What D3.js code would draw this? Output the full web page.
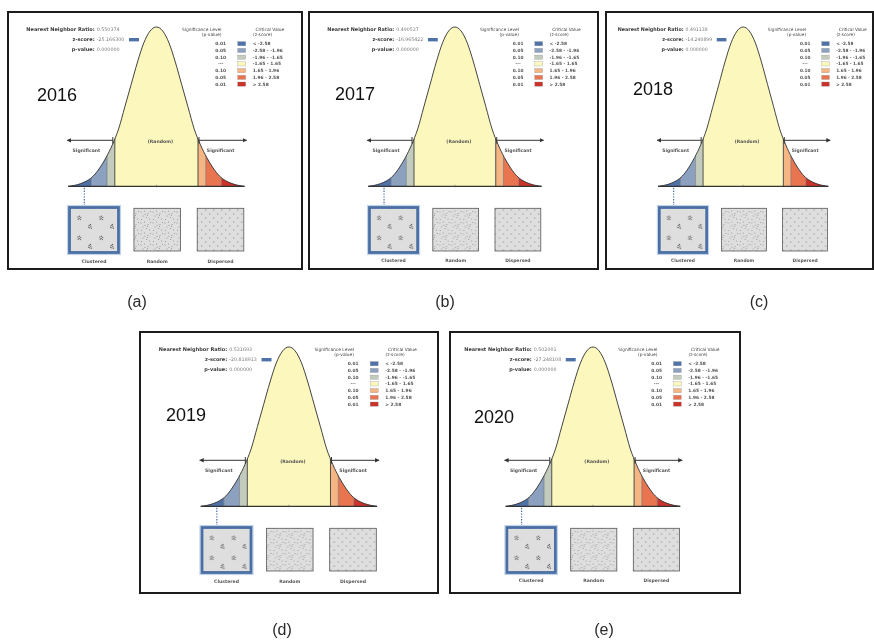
<!DOCTYPE html>
<html>
<head>
<meta charset="utf-8">
<script src="https://cdn.jsdelivr.net/npm/d3@7"></script>
<style>
body { margin:0; background:#fff; }
svg { display:block; font-family:'DejaVu Sans', Verdana, sans-serif; will-change:transform; }
.year, .tag { font-family:'Liberation Sans', Arial, sans-serif; }
</style>
</head>
<body>
<div id="canvas"></div>
<script>
// ---- DATA ------------------------------------------------------------------------------
var years = ['2016','2017','2018','2019','2020'];
var panelTags = ['(a)','(b)','(c)','(d)','(e)'];
var nnRatios = ['0.550374','0.490537','0.491138','0.531693','0.502001'];
var zScores = ['-25.166300','-16.965422','-14.240899','-20.818913','-27.248108'];
var pValues = ['0.000000','0.000000','0.000000','0.000000','0.000000'];

var sigLevels = ['0.01','0.05','0.10','---','0.10','0.05','0.01'];
var critValues = ['< -2.58','-2.58 - -1.96','-1.96 - -1.65','-1.65 - 1.65','1.65 - 1.96','1.96 - 2.58','> 2.58'];
var zBreaks = [-3.5,-2.58,-1.96,-1.65,1.65,1.96,2.58,3.5];

// bell outline: relative height, z = -3.5 ... 3.5
var curveZ = [-3.5,-3.25,-3,-2.75,-2.5,-2.25,-2,-1.75,-1.5,-1.25,-1,-0.75,-0.5,-0.25,0,
              0.25,0.5,0.75,1,1.25,1.5,1.75,2,2.25,2.5,2.75,3,3.25,3.5];
var curveH = [0,0.006,0.017,0.035,0.065,0.115,0.18,0.26,0.36,0.5,0.64,0.78,0.9,0.975,1,
              0.975,0.9,0.78,0.64,0.5,0.36,0.26,0.18,0.115,0.065,0.035,0.017,0.006,0];

var patternNames = ['Clustered','Random','Dispersed'];

// ---- LAYOUT ----------------------------------------------------------------------------
var outerWidth = 874, outerHeight = 642;
var panelBoxes = [
    {x:8,   y:12,  w:294, h:257, sx:1,     ox:0},
    {x:309, y:12,  w:289, h:257, sx:0.983, ox:0},
    {x:606, y:12,  w:267, h:257, sx:0.965, ox:-6},
    {x:140, y:332, w:298, h:261, sx:1,     ox:0.5},
    {x:450, y:332, w:290, h:261, sx:0.99,  ox:-4}
];
var yearSpots = [[29,89],[26,87.5],[27,83],[26,89],[24,90.5]];
var tagSpots = [[137,307],[445,307],[759,307],[282,635],[604,635]];

var binColors = ['#4f73a8','#8ba1bf','#c3ccbc','#fcf8bd','#f5b684','#e87450','#cc3229'];

var svg = d3.select('#canvas')
    .append('svg')
    .attr('width',outerWidth)
    .attr('height',outerHeight);

// ---- SCALES ----------------------------------------------------------------------------
var scaleX = d3.scaleLinear().domain([-3.5,3.5]).range([60.2,236.6]);
var scaleY = d3.scaleLinear().domain([0,1]).range([174.3,15]);
var scaleRow = d3.scalePoint().domain(d3.range(sigLevels.length)).range([31.6,72]);
var scaleBox = d3.scalePoint().domain(patternNames).range([86,212.5]);

var bellPoints = curveZ.map(function(z,i){ return {z:z, h:curveH[i]}; });

var areaGenerator = d3.area()
    .x(function(d){ return scaleX(d.z); })
    .y0(scaleY(0))
    .y1(function(d){ return scaleY(d.h); })
    .curve(d3.curveMonotoneX);
var lineGenerator = d3.line()
    .x(function(d){ return scaleX(d.z); })
    .y(function(d){ return scaleY(d.h); })
    .curve(d3.curveMonotoneX);

// ---- DEFS ------------------------------------------------------------------------------
var defs = svg.append('defs');

defs.append('clipPath').attr('id','bell')
    .append('path').attr('d', areaGenerator(bellPoints));

defs.append('marker')
    .attr('id','arrow')
    .attr('viewBox','0 0 10 10')
    .attr('refX',9).attr('refY',5)
    .attr('markerWidth',4.5).attr('markerHeight',4.5)
    .attr('orient','auto-start-reverse')
    .append('path').attr('d','M0,0L10,5L0,10z').attr('fill','#333');

// speckle textures for the three example squares
function speckle(id, w, h, spots, r){
    var p = defs.append('pattern').attr('id',id)
        .attr('patternUnits','userSpaceOnUse')
        .attr('width',w).attr('height',h);
    p.append('rect').attr('width',w).attr('height',h).attr('fill','#dedede');
    spots.forEach(function(s){
        p.append('circle').attr('cx',s[0]).attr('cy',s[1]).attr('r',r).attr('fill','#5a5a5a');
    });
}
speckle('tex-clustered', 22, 20, [[4,5],[5.6,4.2],[5.2,6.3],[6.8,5.6],[4.2,7.2],[6.4,7.6],
                                   [15.2,13.4],[16.8,14.2],[15.8,15.8],[17.4,16.2],[16.4,12.4],[14.6,15.2]], 0.65);
speckle('tex-random', 12, 11, [[1,2],[4.5,1],[8,3.5],[10.5,1.5],[3,6],[6.5,7.5],[9.5,9],[1.5,9.5],[5,4.2],[7.4,5.2]], 0.45);
speckle('tex-dispersed', 8, 8, [[1.8,2],[5.8,6]], 0.5);

// ---- PANELS ----------------------------------------------------------------------------
years.forEach(function(year, i){
    var box = panelBoxes[i];

    var panel = svg.append('g')
        .attr('class','panel')
        .attr('transform','translate(' + box.x + ',' + box.y + ')');

    panel.append('clipPath').attr('id','panel-clip-' + i)
        .append('rect').attr('x',1).attr('y',1).attr('width',box.w - 2).attr('height',box.h - 2);

    panel.append('rect')
        .attr('width',box.w).attr('height',box.h)
        .attr('fill','#fff');

    var clip = panel.append('g').attr('clip-path','url(#panel-clip-' + i + ')');
    var plot = clip.append('g')
        .attr('transform','translate(' + box.ox + ',0) scale(' + box.sx + ',1)');

    // header
    var head = plot.append('g').style('font-size','5px');
    var headRows = [['Nearest Neighbor Ratio:', nnRatios[i]], ['z-score:', zScores[i]], ['p-value:', pValues[i]]];
    headRows.forEach(function(r, k){
        head.append('text')
            .attr('x',86.7).attr('y',19 + k*10)
            .attr('text-anchor','end')
            .style('font-weight','bold')
            .attr('fill','#3a3a3a')
            .text(r[0]);
        head.append('text')
            .attr('x',88.7).attr('y',19 + k*10)
            .style('font-size','4.8px')
            .attr('fill','#7a7a7a')
            .text(r[1]);
    });
    head.append('rect')
        .attr('x',121).attr('y',26).attr('width',10).attr('height',3.4)
        .attr('fill',binColors[0]);

    // legend
    var legend = plot.append('g').style('font-size','4.4px').attr('fill','#444');
    legend.append('text').attr('x',193.7).attr('y',18.8).attr('text-anchor','middle').text('Significance Level');
    legend.append('text').attr('x',203.7).attr('y',24.3).attr('text-anchor','middle').text('(p-value)');
    legend.append('text').attr('x',261.9).attr('y',18.8).attr('text-anchor','middle').text('Critical Value');
    legend.append('text').attr('x',245).attr('y',24.3).text('(z-score)');

    var rows = legend.selectAll('.row')
        .data(sigLevels)
        .enter().append('g')
        .attr('class','row')
        .attr('transform', function(d, k){ return 'translate(0,' + scaleRow(k) + ')'; });
    rows.append('text')
        .attr('x',212.7).attr('y',1.6)
        .attr('text-anchor','middle')
        .style('font-weight','bold')
        .attr('fill','#555')
        .text(function(d){ return d; });
    rows.append('rect')
        .attr('x',229.7).attr('y',-2).attr('width',8).attr('height',4.2)
        .attr('fill', function(d, k){ return binColors[k]; })
        .attr('stroke','#8a8a8a').attr('stroke-width',0.3);
    rows.append('text')
        .attr('x',244.7).attr('y',1.6)
        .style('font-weight','bold')
        .attr('fill','#555')
        .text(function(d, k){ return critValues[k]; });

    // bell curve, coloured by critical value bins
    var bell = plot.append('g').attr('clip-path','url(#bell)');
    bell.selectAll('.bin')
        .data(binColors)
        .enter().append('rect')
        .attr('class','bin')
        .attr('x', function(d, k){ return scaleX(zBreaks[k]); })
        .attr('width', function(d, k){ return scaleX(zBreaks[k+1]) - scaleX(zBreaks[k]); })
        .attr('y',0).attr('height',scaleY(0))
        .attr('fill', function(d){ return d; });
    bell.selectAll('.brk')
        .data(zBreaks.slice(1, -1))
        .enter().append('line')
        .attr('class','brk')
        .attr('x1', function(d){ return scaleX(d); })
        .attr('x2', function(d){ return scaleX(d); })
        .attr('y1',0).attr('y2',scaleY(0))
        .attr('stroke', function(d){ return Math.abs(d) === 1.65 ? '#3c3c3c' : '#6e6e6e'; })
        .attr('stroke-width', function(d){ return Math.abs(d) === 1.65 ? 0.9 : 0.6; });

    plot.append('path')
        .datum(bellPoints)
        .attr('d', lineGenerator)
        .attr('fill','none')
        .attr('stroke','#2e2e2e')
        .attr('stroke-width',0.9);

    plot.append('line')
        .attr('x1',scaleX(-3.5)).attr('x2',scaleX(3.5))
        .attr('y1',scaleY(0)).attr('y2',scaleY(0))
        .attr('stroke','#333').attr('stroke-width',1.3);
    plot.append('line')
        .attr('x1',scaleX(0)).attr('x2',scaleX(0))
        .attr('y1',scaleY(0) - 1.5).attr('y2',scaleY(0) + 1)
        .attr('stroke','#555').attr('stroke-width',0.6);

    // significance arrows
    var arrowY = 128.3;
    var arrows = [[scaleX(-1.65) - 2, scaleX(-3.5) - 1], [scaleX(1.65) + 1, scaleX(3.5) + 2]];
    arrows.forEach(function(a){
        plot.append('line')
            .attr('x1',a[0]).attr('x2',a[1])
            .attr('y1',arrowY).attr('y2',arrowY)
            .attr('stroke','#333').attr('stroke-width',1)
            .attr('marker-end','url(#arrow)');
        plot.append('line')
            .attr('x1',a[0]).attr('x2',a[0])
            .attr('y1',arrowY - 3.3).attr('y2',arrowY + 3.3)
            .attr('stroke','#333').attr('stroke-width',1);
    });

    var notes = plot.append('g').style('font-size','4.6px').style('font-weight','bold').attr('fill','#555');
    notes.append('text').attr('x',152.4).attr('y',131).attr('text-anchor','middle').text('(Random)');
    notes.append('text').attr('x',78.4).attr('y',140).attr('text-anchor','middle').text('Significant');
    notes.append('text').attr('x',212.7).attr('y',140).attr('text-anchor','middle').text('Significant');

    // marker from the z-score down to the clustered example
    plot.append('line')
        .attr('x1',scaleX(-2.86)).attr('x2',scaleX(-2.86))
        .attr('y1',scaleY(0) + 1.5).attr('y2',195)
        .attr('stroke','#4a6fa5').attr('stroke-width',1.2)
        .attr('stroke-dasharray','1.4,1.4');

    // example squares
    var squares = plot.selectAll('.square')
        .data(patternNames)
        .enter().append('g')
        .attr('class','square');
    squares.each(function(name){
        var g = d3.select(this);
        var cx = scaleBox(name);
        if (name === 'Clustered') {
            g.append('rect')
                .attr('x',cx - 26.5).attr('y',193.5).attr('width',53).attr('height',49)
                .attr('fill','none').attr('stroke','#c2d2e8').attr('stroke-width',1.2);
            g.append('rect')
                .attr('x',cx - 24.5).attr('y',195.5).attr('width',49).attr('height',45)
                .attr('fill','url(#tex-clustered)')
                .attr('stroke','#4a6fa5').attr('stroke-width',2.8);
        } else {
            g.append('rect')
                .attr('x',cx - 23.3).attr('y',196.3).attr('width',46.6).attr('height',42.7)
                .attr('fill','url(#tex-' + name.toLowerCase() + ')')
                .attr('stroke','#555').attr('stroke-width',0.8);
        }
        g.append('text')
            .attr('x',cx).attr('y',250.5)
            .attr('text-anchor','middle')
            .style('font-size','4.6px').style('font-weight','bold')
            .attr('fill','#555')
            .text(name);
    });

    // year label (not scaled)
    clip.append('text')
        .attr('class','year')
        .attr('x',yearSpots[i][0]).attr('y',yearSpots[i][1])
        .style('font-size','18px')
        .attr('fill','#111')
        .text(year);

    panel.append('rect')
        .attr('width',box.w).attr('height',box.h)
        .attr('fill','none')
        .attr('stroke','#1c1c1c').attr('stroke-width',2);

    svg.append('text')
        .attr('class','tag')
        .attr('x',tagSpots[i][0]).attr('y',tagSpots[i][1])
        .attr('text-anchor','middle')
        .style('font-size','16px')
        .attr('fill','#2a2a2a')
        .text(panelTags[i]);
});
</script>
</body>
</html>
